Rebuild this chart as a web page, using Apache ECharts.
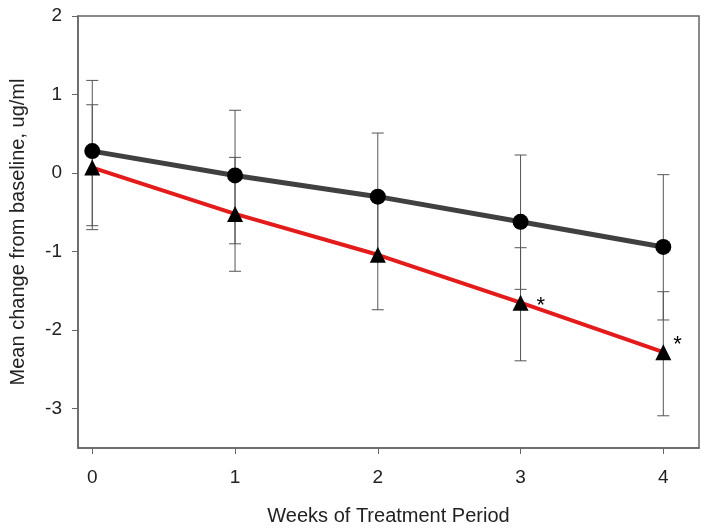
<!DOCTYPE html>
<html>
<head>
<meta charset="utf-8">
<script src="https://cdn.jsdelivr.net/npm/echarts@6/dist/echarts.min.js"></script>
<style>html,body{margin:0;padding:0;background:#fff}#c{width:709px;height:532px}</style>
</head>
<body>
<div id="c"></div>
<script>
var weeks = [0, 1, 2, 3, 4];
var yTicks = [-3, -2, -1, 0, 1, 2];
var grayMean = [0.28, -0.03, -0.30, -0.62, -0.94];
var grayUpper = [1.18, 0.80, 0.51, 0.23, -0.02];
var grayLower = [-0.72, -0.90, -1.11, -1.48, -1.87];
var redMean = [0.07, -0.52, -1.04, -1.65, -2.28];
var redUpper = [0.87, 0.20, -0.34, -0.95, -1.51];
var redLower = [-0.67, -1.25, -1.74, -2.39, -3.09];
var redStars = ['', '', '', '*', '*'];

var chart = echarts.init(document.getElementById('c'));
function errData(up, lo) {
  return weeks.map(function (w, i) { return [w, up[i], lo[i]]; });
}
function errRender(params, api) {
  var x = api.value(0);
  var top = api.coord([x, api.value(1)]);
  var bot = api.coord([x, api.value(2)]);
  var hw = 6;
  var st = { stroke: '#555', lineWidth: 1 };
  return {
    type: 'group',
    children: [
      { type: 'line', shape: { x1: top[0], y1: top[1], x2: bot[0], y2: bot[1] }, style: st },
      { type: 'line', shape: { x1: top[0] - hw, y1: top[1], x2: top[0] + hw, y2: top[1] }, style: st },
      { type: 'line', shape: { x1: bot[0] - hw, y1: bot[1], x2: bot[0] + hw, y2: bot[1] }, style: st }
    ]
  };
}
var font = 'Liberation Sans, Arial, sans-serif';
chart.setOption({
  animation: false,
  grid: { left: 78, top: 16, right: 10, bottom: 84, show: true, borderColor: '#666', borderWidth: 1.5 },
  xAxis: {
    type: 'value', min: -0.1, max: 4.25,
    name: 'Weeks of Treatment Period', nameLocation: 'middle', nameGap: 58,
    nameTextStyle: { fontFamily: font, fontSize: 20, color: '#222' },
    axisLine: { show: true, onZero: false, lineStyle: { color: '#666', width: 1.5 } },
    axisTick: { show: true, length: 6, customValues: weeks, lineStyle: { color: '#666' } },
    axisLabel: { customValues: weeks, margin: 20, fontFamily: font, fontSize: 19, color: '#222' },
    splitLine: { show: false }
  },
  yAxis: {
    type: 'value', min: -3.5, max: 2,
    name: 'Mean change from baseline, ug/ml', nameLocation: 'middle', nameGap: 50,
    nameTextStyle: { fontFamily: font, fontSize: 20, color: '#222' },
    axisLine: { show: true, onZero: false, lineStyle: { color: '#666', width: 1.5 } },
    axisTick: { show: true, length: 6, customValues: yTicks, lineStyle: { color: '#666' } },
    axisLabel: { customValues: yTicks, margin: 16, fontFamily: font, fontSize: 19, color: '#222' },
    splitLine: { show: false }
  },
  series: [
    { type: 'custom', renderItem: errRender, data: errData(grayUpper, grayLower), z: 1, silent: true },
    { type: 'custom', renderItem: errRender, data: errData(redUpper, redLower), z: 1, silent: true },
    {
      type: 'line', data: weeks.map(function (w, i) { return [w, grayMean[i]]; }),
      lineStyle: { color: '#404040', width: 5 }, symbol: 'circle', symbolSize: 16,
      itemStyle: { color: '#000' }, z: 3
    },
    {
      type: 'line', data: weeks.map(function (w, i) { return [w, redMean[i]]; }),
      lineStyle: { color: '#e31b1b', width: 4 }, symbol: 'triangle', symbolSize: 16,
      itemStyle: { color: '#000' }, z: 4,
      label: {
        show: true, position: 'right', fontFamily: font, fontSize: 22, color: '#000',
        formatter: function (p) { return redStars[p.dataIndex]; }
      },
      labelLayout: function (p) {
        return p.dataIndex === 3 ? { dx: 3, dy: 3 } : { dx: -3, dy: -7 };
      }
    }
  ]
});
</script>
</body>
</html>
